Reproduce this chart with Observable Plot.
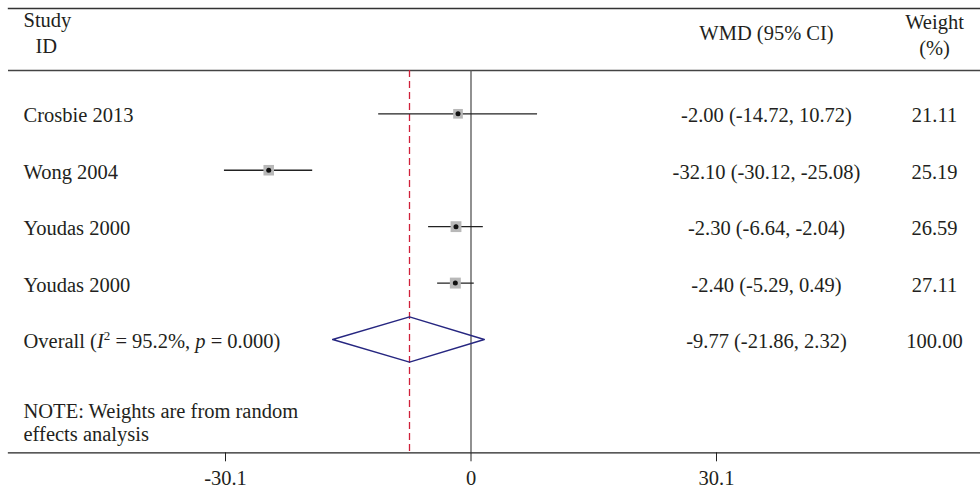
<!DOCTYPE html>
<html>
<head>
<meta charset="utf-8">
<script src="https://cdn.jsdelivr.net/npm/d3@7"></script>
<script src="https://cdn.jsdelivr.net/npm/@observablehq/plot@0.6"></script>
<style>
  html, body { margin: 0; padding: 0; background: #fff; }
  #chart svg { display: block; }
</style>
</head>
<body>
<div id="chart"></div>
<script>
// ---- data ----
const studies = ["Crosbie 2013", "Wong 2004", "Youdas 2000", "Youdas 2000"];
const estimates = [-1.59, -24.8, -1.84, -1.92];
const lowerCI = [-11.32, -30.23, -5.2, -4.09];
const upperCI = [8.16, -19.41, 1.51, 0.40];
const weights = [21.11, 25.19, 26.59, 27.11];
const ciLabels = ["-2.00 (-14.72, 10.72)", "-32.10 (-30.12, -25.08)", "-2.30 (-6.64, -2.04)", "-2.40 (-5.29, 0.49)"];
const weightLabels = ["21.11", "25.19", "26.59", "27.11"];

const overallLabel = "Overall (I² = 95.2%, p = 0.000)";
const overallEst = [-7.54];
const overallLower = [-16.96];
const overallUpper = [1.63];
const overallCILabel = ["-9.77 (-21.86, 2.32)"];
const overallWeightLabel = ["100.00"];

const tickValues = [-30.1, 0, 30.1];
const tickLabels = ["-30.1", "0", "30.1"];

const headerStudy = ["Study", "ID"];
const headerEffect = "WMD (95% CI)";
const headerWeight = "Weight\n(%)";
const noteLines = ["NOTE: Weights are from random", "effects analysis"];

// ---- tables built from the arrays ----
const rows = studies.map((s, i) => ({
  row: i, study: s, est: estimates[i], lo: lowerCI[i], hi: upperCI[i],
  weight: weights[i], ci: ciLabels[i], w: weightLabels[i]
}));
const overallRow = studies.length;
const labelRows = [
  ...rows.map(d => ({row: d.row, study: d.study, ci: d.ci, w: d.w})),
  {row: overallRow, study: overallLabel, ci: overallCILabel[0], w: overallWeightLabel[0]}
];
const diamondHalf = 0.4;
const diamond = [
  {x: overallLower[0], y: overallRow},
  {x: overallEst[0], y: overallRow - diamondHalf},
  {x: overallUpper[0], y: overallRow},
  {x: overallEst[0], y: overallRow + diamondHalf},
  {x: overallLower[0], y: overallRow}
];

const ink = "#231f20";
const chart = Plot.plot({
  width: 980,
  height: 491,
  marginLeft: 0,
  marginRight: 0,
  marginTop: 8,
  marginBottom: 38.7,
  style: {fontFamily: "'Liberation Serif', serif", fontSize: "20.5px", color: ink, background: "#fff"},
  x: {domain: [tickValues[0], tickValues[2]], range: [225, 716], axis: null},
  y: {domain: [0, overallRow], range: [113.3, 339], axis: null},
  r: {type: "sqrt", domain: [0, 30], range: [0, 6.5]},
  marks: [
    // table rules
    Plot.frame({anchor: "top", insetLeft: 8, stroke: "#333", strokeWidth: 1.4}),
    Plot.ruleY([-0.767], {insetLeft: 8, stroke: "#444", strokeWidth: 1.4}),
    Plot.frame({anchor: "bottom", insetLeft: 8, stroke: "#222", strokeWidth: 1.3}),
    // reference lines
    Plot.ruleX([0], {insetTop: 62, stroke: "#555", strokeWidth: 1.3}),
    Plot.ruleX(overallEst, {insetTop: 62, stroke: "#d0203a", strokeWidth: 1.3, strokeDasharray: "7,4"}),
    // axis
    Plot.axisX({
      ticks: tickValues,
      tickFormat: d => tickLabels[tickValues.indexOf(d)],
      tickSize: 9, tickPadding: 9, fontSize: 20.5, stroke: "#222"
    }),
    // confidence intervals
    Plot.ruleY(rows, {y: "row", x1: "lo", x2: "hi", stroke: "#222", strokeWidth: 1.3}),
    Plot.dot(rows, {x: "est", y: "row", r: "weight", symbol: "square", fill: "#b8b8b8", stroke: "none"}),
    Plot.dot(rows, {x: "est", y: "row", r: 2.5, fill: "#111", stroke: "none"}),
    // pooled diamond
    Plot.line(diamond, {x: "x", y: "y", stroke: "#262680", strokeWidth: 1.4, curve: "linear"}),
    // table text
    Plot.text(labelRows, {y: "row", text: "study", frameAnchor: "left", dx: 23, dy: 2, textAnchor: "start", fill: ink}),
    Plot.text(labelRows, {y: "row", text: "ci", frameAnchor: "left", dx: 766, dy: 2, textAnchor: "middle", fill: ink}),
    Plot.text(labelRows, {y: "row", text: "w", frameAnchor: "left", dx: 934, dy: 2, textAnchor: "middle", fill: ink}),
    // headers
    Plot.text([headerStudy[0]], {frameAnchor: "top-left", dx: 23, dy: 12, textAnchor: "start", lineAnchor: "middle", fill: ink}),
    Plot.text([headerStudy[1]], {frameAnchor: "top-left", dx: 35, dy: 38, textAnchor: "start", lineAnchor: "middle", fill: ink}),
    Plot.text([headerEffect], {frameAnchor: "top-left", dx: 766, dy: 25, textAnchor: "middle", lineAnchor: "middle", fill: ink}),
    Plot.text([headerWeight], {frameAnchor: "top-left", dx: 934, dy: 25, textAnchor: "middle", lineAnchor: "middle", lineHeight: 1.3, fill: ink}),
    // note
    Plot.text([noteLines[0]], {frameAnchor: "bottom-left", dx: 23, dy: -41, textAnchor: "start", lineAnchor: "middle", fill: ink}),
    Plot.text([noteLines[1]], {frameAnchor: "bottom-left", dx: 23, dy: -18, textAnchor: "start", lineAnchor: "middle", fill: ink})
  ]
});

// rich formatting for the overall label (italic I, superscript 2, italic p)
chart.querySelectorAll("text").forEach(t => {
  if (t.textContent === overallLabel) {
    const ns = "http://www.w3.org/2000/svg";
    const parts = [
      {s: "Overall ("},
      {s: "I", italic: true},
      {s: "2", sup: true},
      {s: " = 95.2%, ", unsup: true},
      {s: "p", italic: true},
      {s: " = 0.000)"}
    ];
    t.textContent = "";
    parts.forEach(p => {
      const ts = document.createElementNS(ns, "tspan");
      ts.textContent = p.s;
      if (p.italic) ts.setAttribute("font-style", "italic");
      if (p.sup) { ts.setAttribute("font-size", "13"); ts.setAttribute("dy", "-8"); }
      if (p.unsup) ts.setAttribute("dy", "8");
      t.appendChild(ts);
    });
  }
});

document.getElementById("chart").appendChild(chart);
</script>
</body>
</html>
